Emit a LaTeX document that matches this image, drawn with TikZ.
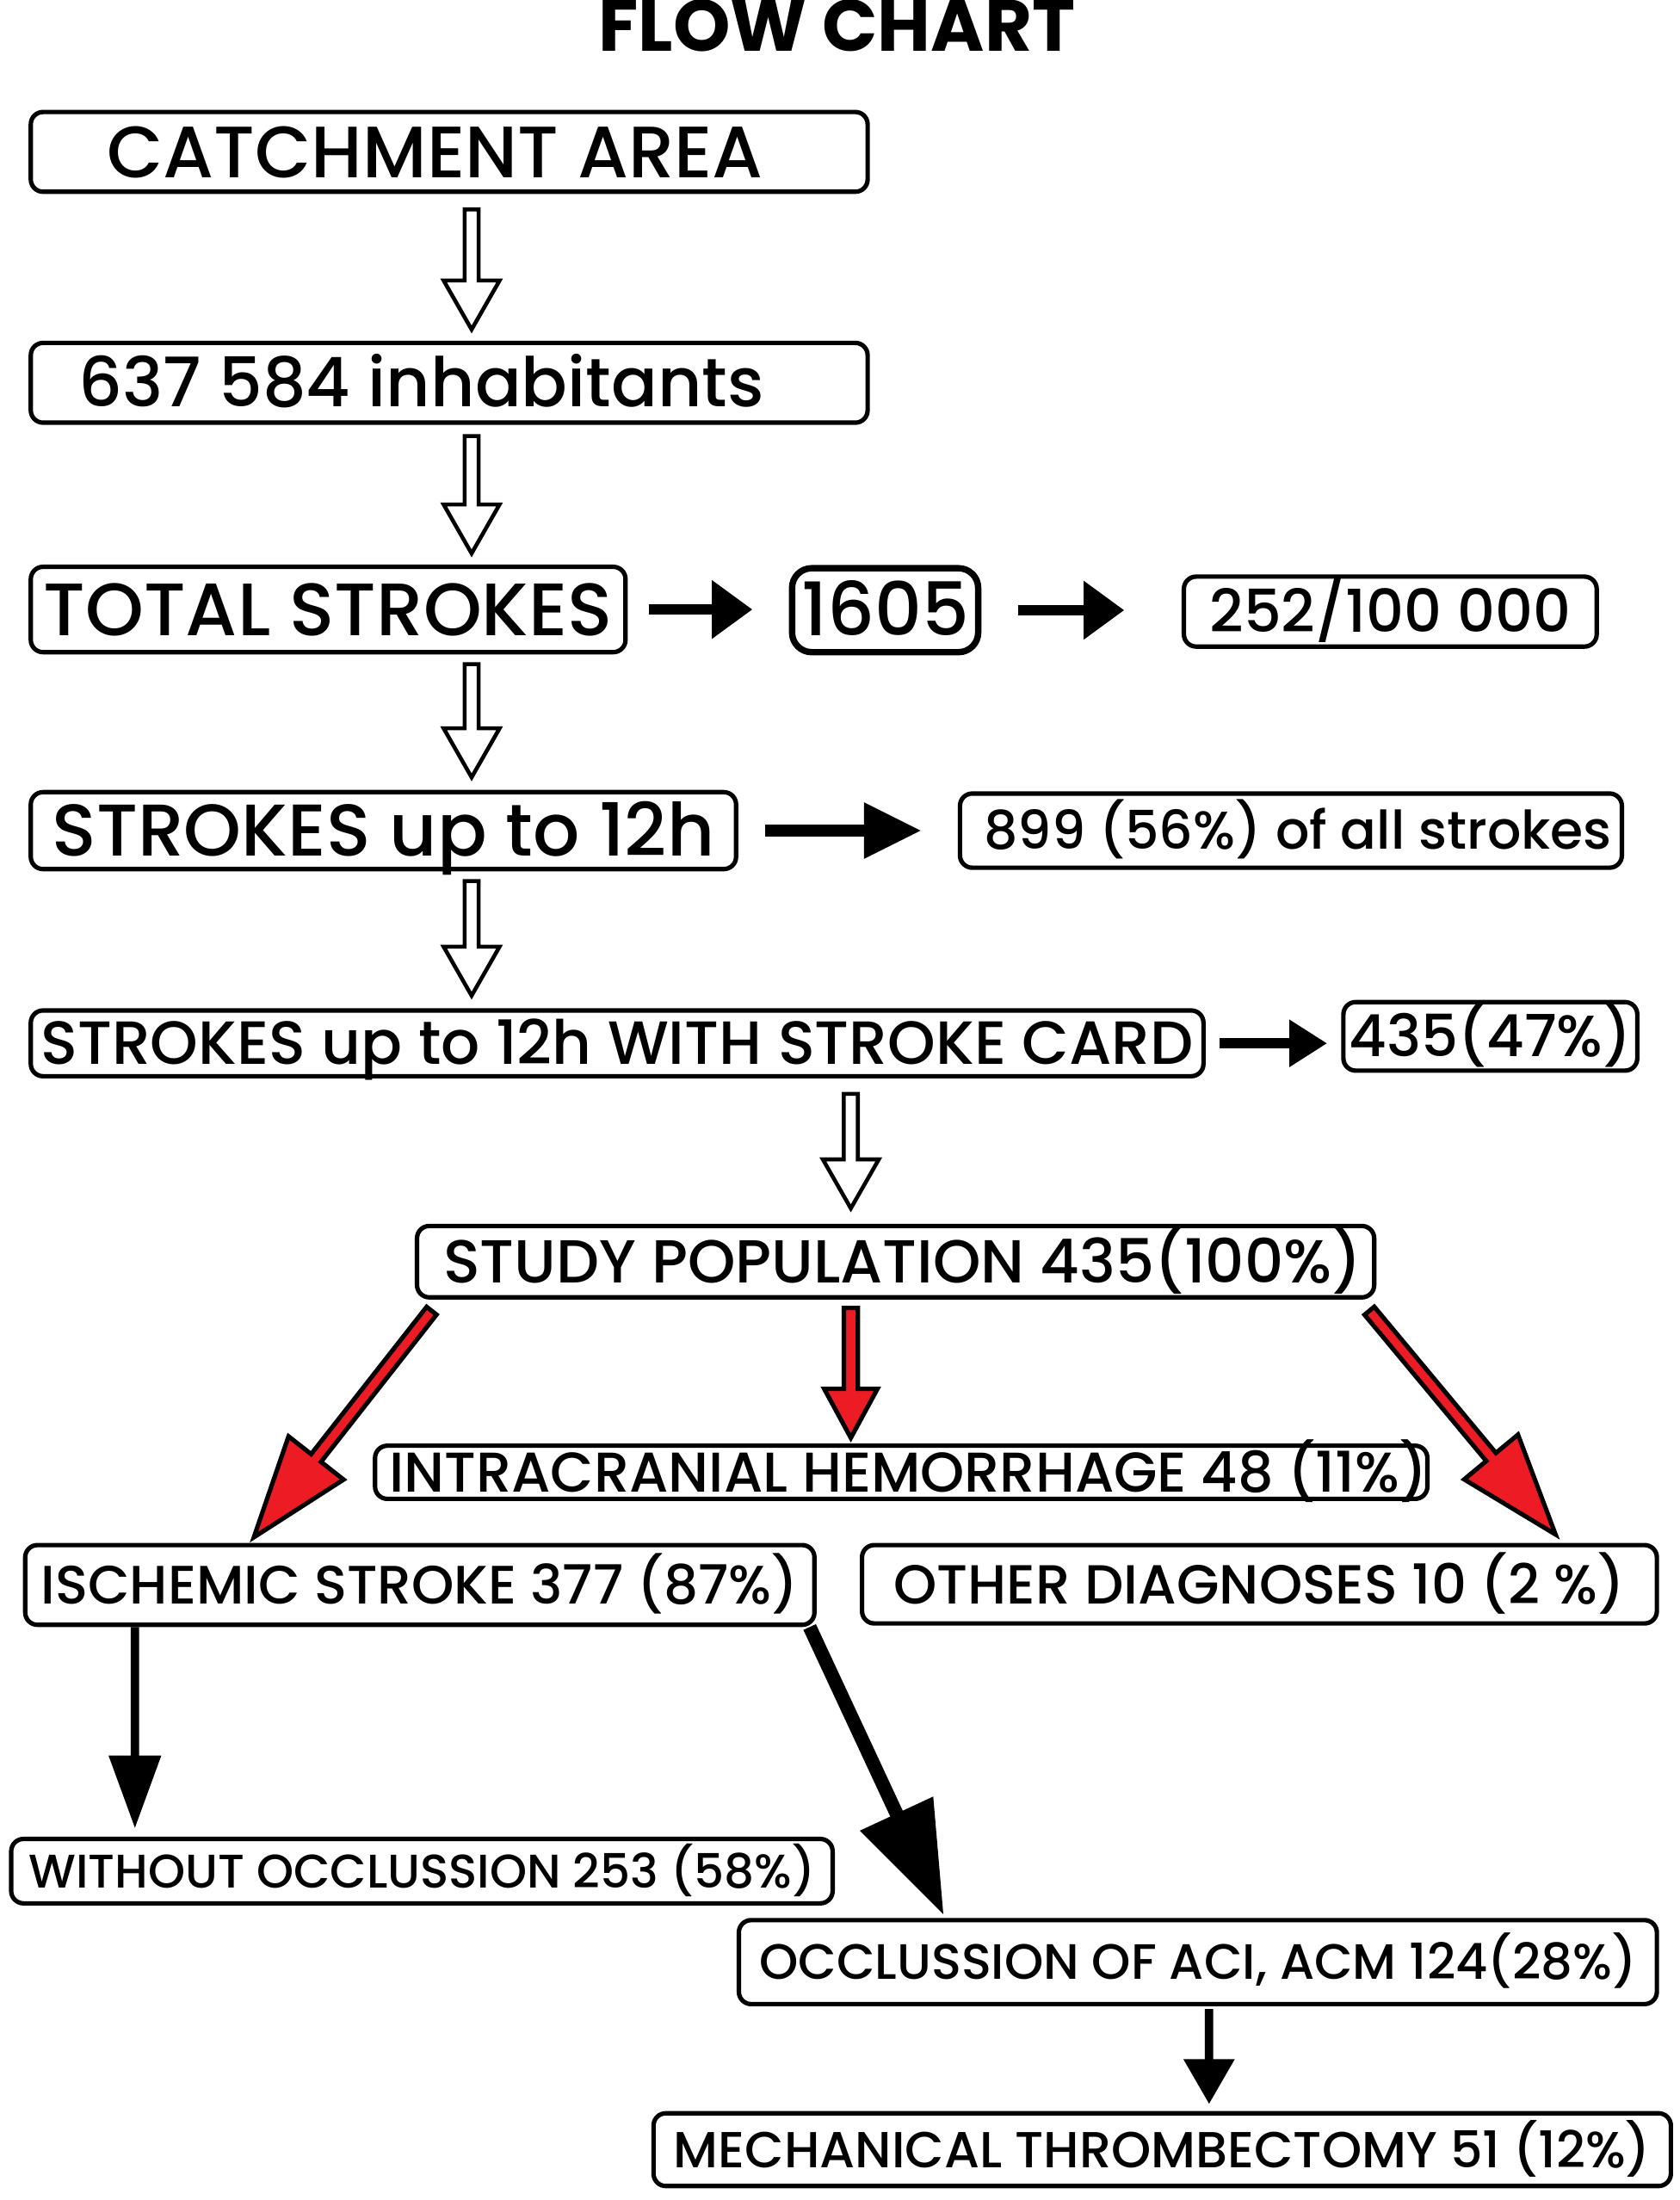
\documentclass[tikz,border=0pt]{standalone}
\usepackage{fontspec}
\setmainfont{Poppins}[UprightFont=* Medium, BoldFont=* Bold]
\usepackage{xcolor}
\usepackage{tikz}
\usetikzlibrary{positioning, calc, arrows.meta}

\definecolor{arrowred}{HTML}{ED1C24}

\newcommand{\fsz}[1]{\fontsize{#1}{#1}\selectfont}

% block arrow: style, from, to, half shaft, half head, head length
\newcommand{\blockarrow}[6]{%
  \coordinate (neck) at ($#3!#6!#2$);
  \draw[#1] ($#2!#4!90:#3$) -- ($(neck)!#4!90:#3$) -- ($(neck)!#5!90:#3$) -- #3
    -- ($(neck)!#5!-90:#3$) -- ($(neck)!#4!-90:#3$) -- ($#2!#4!-90:#3$) -- cycle;
}

\tikzset{
  box/.style={draw, line width=0.9pt, rounded corners=2.5pt, inner sep=0pt, text height=0pt, text depth=0pt,
    execute at begin node={\lower0.35em\hbox\bgroup}, execute at end node={\egroup}},
  hollow/.style={draw, fill=white, line width=0.8pt, line join=miter},
  redarrow/.style={draw, fill=arrowred, line width=0.9pt, line join=miter},
  solidarrow/.style={line width=2.1pt, -{Triangle[length=0.29cm, width=0.40cm]}},
}

\begin{document}
\begin{tikzpicture}
      \useasboundingbox (0,0) rectangle (12,-15.72);

      \node[font=\bfseries\fsz{14.8}] (title) at (5.98,-0.18) {FLOW CHART};

      \node[box, minimum width=5.98cm, minimum height=0.57cm, font=\fsz{14.8}] (catch) at (3.21,-1.085) {CATCHMENT AREA\hspace*{0.2cm}};
      \node[box, minimum width=5.98cm, minimum height=0.57cm, font=\fsz{13.9}] (inhab) at (3.21,-2.735) {637 584 inhabitants\hspace*{0.4cm}};
      \node[box, minimum width=4.25cm, minimum height=0.61cm, font=\fsz{15.1}] (total) at (2.345,-4.355) {TOTAL STROKES};
      \node[box, line width=1.3pt, rounded corners=4pt, minimum width=1.33cm, minimum height=0.60cm, font=\fsz{15}] (n1605) at (6.325,-4.36) {1605};
      \node[box, minimum width=2.95cm, minimum height=0.50cm, font=\fsz{12}] (rate) at (9.935,-4.37) {252/100 000};
      \node[box, minimum width=5.04cm, minimum height=0.55cm, font=\fsz{14.9}] (s12) at (2.74,-5.935) {STROKES up to 12h};
      \node[box, minimum width=4.73cm, minimum height=0.53cm, font=\fsz{10.8}] (n899) at (9.225,-5.935) {\hspace*{0.1cm}899 (56\%) of all strokes};
      \node[box, minimum width=8.38cm, minimum height=0.47cm, font=\fsz{12.4}] (card) at (4.41,-7.455) {STROKES up to 12h WITH STROKE CARD};
      \node[box, minimum width=2.10cm, minimum height=0.49cm, font=\fsz{11.8}] (n435) at (10.65,-7.405) {435(47\%)};
      \node[box, minimum width=6.84cm, minimum height=0.51cm, font=\fsz{12.35}] (study) at (6.40,-9.015) {\hspace*{0.1cm}STUDY POPULATION 435(100\%)};
      \node[box, minimum width=7.52cm, minimum height=0.38cm, font=\fsz{11.4}] (ich) at (6.44,-10.52) {\hspace*{0.1cm}INTRACRANIAL HEMORRHAGE 48 (11\%)};
      \node[box, minimum width=5.64cm, minimum height=0.57cm, font=\fsz{11}] (isch) at (3.00,-11.325) {ISCHEMIC STROKE 377 (87\%)};
      \node[box, minimum width=5.68cm, minimum height=0.56cm, font=\fsz{11.2}] (other) at (9.00,-11.32) {OTHER DIAGNOSES 10 (2 \%)};
      \node[box, minimum width=5.87cm, minimum height=0.46cm, font=\fsz{9.6}] (without) at (3.015,-13.37) {WITHOUT OCCLUSSION 253 (58\%)};
      \node[box, minimum width=6.56cm, minimum height=0.60cm, font=\fsz{10.1}] (occl) at (8.56,-14.02) {OCCLUSSION OF ACI, ACM 124(28\%)};
      \node[box, minimum width=7.27cm, minimum height=0.52cm, font=\fsz{10.3}] (mech) at (8.305,-15.36) {MECHANICAL THROMBECTOMY 51 (12\%)};

      % hollow arrows down the left column
      \coordinate (axis) at (3.37,0);
      \coordinate (h1a) at ($(catch.south -| axis)+(0,-0.11)$);
      \coordinate (h1b) at ($(inhab.north -| axis)+(0,0.08)$);
      \blockarrow{hollow}{(h1a)}{(h1b)}{0.05cm}{0.2cm}{0.35cm}
      \coordinate (h2a) at ($(inhab.south -| axis)+(0,-0.08)$);
      \coordinate (h2b) at ($(total.north -| axis)+(0,0.08)$);
      \blockarrow{hollow}{(h2a)}{(h2b)}{0.05cm}{0.2cm}{0.35cm}
      \coordinate (h3a) at ($(total.south -| axis)+(0,-0.07)$);
      \coordinate (h3b) at ($(s12.north -| axis)+(0,0.09)$);
      \blockarrow{hollow}{(h3a)}{(h3b)}{0.05cm}{0.2cm}{0.35cm}
      \coordinate (h4a) at ($(s12.south -| axis)+(0,-0.07)$);
      \coordinate (h4b) at ($(card.north -| axis)+(0,0.09)$);
      \blockarrow{hollow}{(h4a)}{(h4b)}{0.05cm}{0.2cm}{0.35cm}
      \coordinate (axisb) at (6.08,0);
      \coordinate (h5a) at ($(card.south -| axisb)+(0,-0.11)$);
      \coordinate (h5b) at ($(study.north -| axisb)+(0,0.11)$);
      \blockarrow{hollow}{(h5a)}{(h5b)}{0.05cm}{0.2cm}{0.35cm}

      % side arrows
      \draw[solidarrow, shorten <=0.15cm, shorten >=0.26cm] (total.east) -- (total.east -| n1605.west);
      \draw[solidarrow, shorten <=0.26cm, shorten >=0.41cm] (n1605.east) -- (n1605.east -| rate.west);
      \draw[solidarrow, line width=2.3pt, -{Triangle[length=0.41cm, width=0.38cm]}, shorten <=0.19cm, shorten >=0.26cm] (s12.east) -- (s12.east -| n899.west);
      \draw[solidarrow, -{Triangle[length=0.27cm, width=0.32cm]}, shorten <=0.10cm, shorten >=0.10cm] (card.east) -- (card.east -| n435.west);

      % red arrows
      \coordinate (r1a) at ($(study.south west)+(0.12,-0.08)$);
      \coordinate (r1b) at ($(isch.north west)+(1.65,0.04)$);
      \blockarrow{redarrow}{(r1a)}{(r1b)}{0.045cm}{0.25cm}{0.72cm}
      \coordinate (r2a) at ($(study.south -| axisb)+(0,-0.06)$);
      \coordinate (r2b) at ($(ich.north -| axisb)+(0,0.04)$);
      \blockarrow{redarrow}{(r2a)}{(r2b)}{0.05cm}{0.19cm}{0.35cm}
      \coordinate (r3a) at ($(study.south east)+(-0.05,-0.08)$);
      \coordinate (r3b) at ($(other.north east)+(-0.74,0.06)$);
      \blockarrow{redarrow}{(r3a)}{(r3b)}{0.045cm}{0.25cm}{0.72cm}

      % black arrows
      \draw[line width=1.7pt, -{Triangle[length=0.52cm, width=0.36cm]}] ([xshift=0.80cm]isch.south west) -- ([xshift=0.90cm, yshift=0.06cm]without.north west);
      \draw[line width=2.8pt, -{Triangle[length=0.8cm, width=0.55cm]}] ([xshift=-0.05cm]isch.south east) -- ([xshift=1.48cm, yshift=0.02cm]occl.north west);
      \draw[line width=1.7pt, -{Triangle[length=0.32cm, width=0.35cm]}] ([xshift=0.08cm, yshift=-0.02cm]occl.south) -- ([xshift=0.335cm, yshift=0.05cm]mech.north);
    \end{tikzpicture}
\end{document}
